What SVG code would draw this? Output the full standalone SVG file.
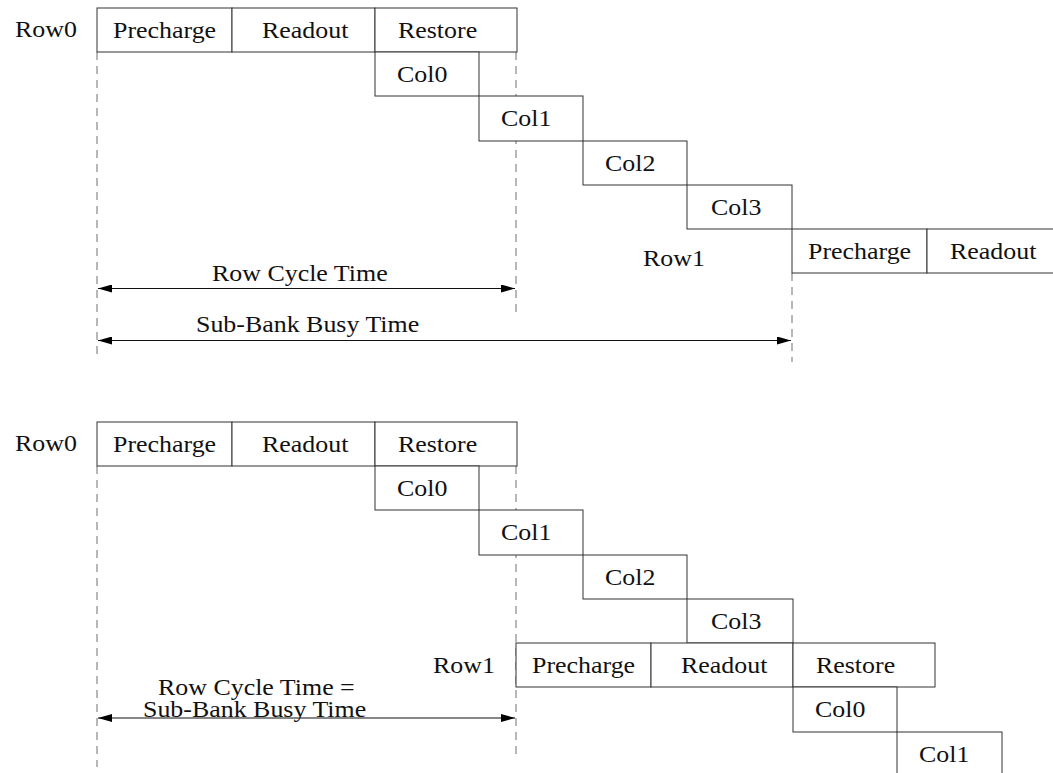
<svg xmlns="http://www.w3.org/2000/svg" width="1053" height="773" viewBox="0 0 1053 773">
  <style>
    .box { fill: #ffffff; stroke: #333333; stroke-width: 1; }
    .lbl { font-family: "Liberation Serif", "Times New Roman", serif; font-size: 24px; fill: #111111;
           transform-box: fill-box; transform-origin: 0 0; transform: scaleX(1.08); }
    .dash { stroke: #888888; stroke-width: 1.2; stroke-dasharray: 8 6; fill: none; }
    .span { stroke: #111111; stroke-width: 1.2; fill: none; marker-start: url(#arrL); marker-end: url(#arrR); }
  </style>
  <defs>
    <marker id="arrR" viewBox="0 0 14 8" refX="14" refY="4" markerWidth="14" markerHeight="8" markerUnits="userSpaceOnUse" orient="auto">
      <path d="M0,0 L14,4 L0,8 Z" fill="#000000"/>
    </marker>
    <marker id="arrL" viewBox="0 0 14 8" refX="0" refY="4" markerWidth="14" markerHeight="8" markerUnits="userSpaceOnUse" orient="auto">
      <path d="M14,0 L0,4 L14,8 Z" fill="#000000"/>
    </marker>
  </defs>
  <rect width="1053" height="773" fill="#ffffff"/>

  <!-- Upper timeline: row cycle shorter than sub-bank busy time -->
  <g id="top">
    <g id="connectors-top">
      <line class="dash" x1="97" y1="52" x2="97" y2="357"/>
      <line class="dash" x1="516" y1="52" x2="516" y2="318"/>
      <line class="dash" x1="792" y1="273" x2="792" y2="362"/>
      <line class="span" x1="98" y1="288.5" x2="515" y2="288.5"/>
      <line class="span" x1="98" y1="340.5" x2="791" y2="340.5"/>
      <text class="lbl" x="212" y="281">Row Cycle Time</text>
      <text class="lbl" x="196" y="332">Sub-Bank Busy Time</text>
    </g>
    <g id="t-row0">
      <text class="lbl" x="15" y="37">Row0</text>
      <rect class="box" x="97" y="8" width="135" height="44"/>
      <rect class="box" x="232" y="8" width="143" height="44"/>
      <rect class="box" x="375" y="8" width="142" height="44"/>
      <text class="lbl" x="113" y="38">Precharge</text>
      <text class="lbl" x="262" y="38">Readout</text>
      <text class="lbl" x="398" y="38">Restore</text>
    </g>
    <g id="t-col0">
      <rect class="box" x="375" y="52" width="104" height="44"/>
      <text class="lbl" x="397" y="82">Col0</text>
    </g>
    <g id="t-col1">
      <rect class="box" x="479" y="96" width="104" height="45"/>
      <text class="lbl" x="501" y="126">Col1</text>
    </g>
    <g id="t-col2">
      <rect class="box" x="583" y="141" width="104" height="44"/>
      <text class="lbl" x="605" y="171">Col2</text>
    </g>
    <g id="t-col3">
      <rect class="box" x="687" y="185" width="105" height="44"/>
      <text class="lbl" x="711" y="215">Col3</text>
    </g>
    <g id="t-row1">
      <text class="lbl" x="643" y="266">Row1</text>
      <rect class="box" x="792" y="229" width="135" height="44"/>
      <rect class="box" x="927" y="229" width="143" height="44"/>
      <text class="lbl" x="808" y="259">Precharge</text>
      <text class="lbl" x="950" y="259">Readout</text>
    </g>
  </g>

  <!-- Lower timeline: row cycle equals sub-bank busy time -->
  <g id="bottom">
    <g id="connectors-bottom">
      <line class="dash" x1="97" y1="466" x2="97" y2="767"/>
      <line class="dash" x1="516" y1="466" x2="516" y2="760"/>
      <line class="span" x1="98" y1="718" x2="515" y2="718"/>
      <text class="lbl" x="158" y="695">Row Cycle Time =</text>
      <text class="lbl" x="143" y="717">Sub-Bank Busy Time</text>
    </g>
    <g id="b-row0">
      <text class="lbl" x="15" y="451">Row0</text>
      <rect class="box" x="97" y="422" width="135" height="44"/>
      <rect class="box" x="232" y="422" width="143" height="44"/>
      <rect class="box" x="375" y="422" width="142" height="44"/>
      <text class="lbl" x="113" y="452">Precharge</text>
      <text class="lbl" x="262" y="452">Readout</text>
      <text class="lbl" x="398" y="452">Restore</text>
    </g>
    <g id="b-col0">
      <rect class="box" x="375" y="466" width="104" height="44"/>
      <text class="lbl" x="397" y="496">Col0</text>
    </g>
    <g id="b-col1">
      <rect class="box" x="479" y="510" width="104" height="45"/>
      <text class="lbl" x="501" y="540">Col1</text>
    </g>
    <g id="b-col2">
      <rect class="box" x="583" y="555" width="104" height="44"/>
      <text class="lbl" x="605" y="585">Col2</text>
    </g>
    <g id="b-col3">
      <rect class="box" x="687" y="599" width="106" height="44"/>
      <text class="lbl" x="711" y="629">Col3</text>
    </g>
    <g id="b-row1">
      <text class="lbl" x="433" y="673">Row1</text>
      <rect class="box" x="516" y="643" width="135" height="44"/>
      <rect class="box" x="651" y="643" width="142" height="44"/>
      <rect class="box" x="793" y="643" width="142" height="44"/>
      <text class="lbl" x="532" y="673">Precharge</text>
      <text class="lbl" x="681" y="673">Readout</text>
      <text class="lbl" x="816" y="673">Restore</text>
    </g>
    <g id="b-col0b">
      <rect class="box" x="793" y="687" width="104" height="45"/>
      <text class="lbl" x="815" y="717">Col0</text>
    </g>
    <g id="b-col1b">
      <rect class="box" x="897" y="732" width="105" height="60"/>
      <text class="lbl" x="919" y="762">Col1</text>
    </g>
  </g>
</svg>
